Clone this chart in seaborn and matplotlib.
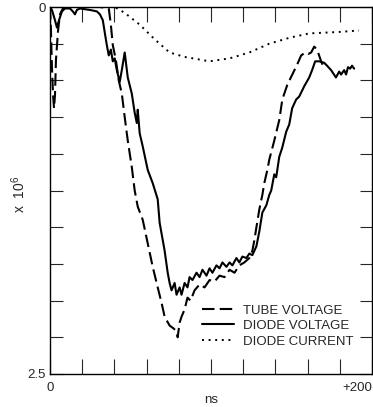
import numpy as np
import pandas as pd
import matplotlib
matplotlib.use("Agg")
import matplotlib.pyplot as plt
import seaborn as sns

# ---- data (x in ns, y in units of 10^6) ----
tube_x = [0.0, 0.6, 1.2, 1.9, 2.5, 3.1, 3.7, 5.0, 6.2, 8.0,
          11.1, 18.6, 31.0, 36.5, 37.8, 39.0, 40.9, 42.7, 44.6, 46.4,
          48.3, 50.8, 52.6, 54.5, 57.6, 60.7, 63.8, 66.9, 69.4, 71.2,
          74.3, 76.8, 78.6, 79.3, 80.5, 81.7, 83.6, 85.4, 87.3, 89.8,
          92.9, 96.0, 99.1, 102.2, 105.3, 108.4, 111.5, 114.6, 117.6, 120.7,
          123.8, 125.7, 126.9, 128.8, 130.0, 131.9, 133.1, 135.0, 136.2, 139.3,
          142.4, 144.3, 147.4, 150.5, 153.6, 156.0, 158.5, 160.4, 162.2, 164.1,
          165.9, 168.4, 170.3]
tube_y = [0.00, 0.16, 0.41, 0.60, 0.69, 0.60, 0.36, 0.16, 0.05, 0.01,
          0.00, 0.00, 0.00, 0.01, 0.12, 0.26, 0.36, 0.50, 0.59, 0.75,
          0.91, 1.09, 1.25, 1.36, 1.45, 1.61, 1.77, 1.91, 2.02, 2.11,
          2.17, 2.19, 2.21, 2.25, 2.15, 2.11, 2.06, 1.98, 2.00, 1.93,
          1.89, 1.91, 1.86, 1.87, 1.83, 1.84, 1.79, 1.81, 1.76, 1.74,
          1.71, 1.66, 1.59, 1.46, 1.38, 1.28, 1.20, 1.11, 1.04, 0.91,
          0.77, 0.63, 0.53, 0.46, 0.39, 0.33, 0.31, 0.32, 0.31, 0.27,
          0.29, 0.37, 0.42]

diode_x = [0.0, 1.2, 3.1, 4.3, 5.6, 7.4, 9.3, 12.4, 14.2, 15.5,
           16.7, 18.6, 24.8, 29.1, 31.0, 32.8, 34.1, 35.3, 36.5, 37.8,
           39.0, 40.2, 41.5, 43.3, 44.6, 46.4, 48.3, 50.8, 52.6, 53.9,
           54.5, 55.7, 57.6, 60.7, 63.8, 66.9, 68.1, 71.2, 73.1, 74.3,
           75.5, 77.4, 78.6, 80.5, 81.7, 83.6, 85.4, 86.7, 88.5, 91.0,
           92.9, 94.7, 97.2, 99.1, 100.9, 103.4, 105.3, 107.1, 109.6, 111.5,
           113.3, 115.8, 117.6, 119.5, 122.0, 123.8, 125.7, 128.2, 130.0, 131.9,
           134.4, 136.2, 137.4, 139.3, 140.5, 142.4, 144.2, 146.7, 148.6, 150.4,
           152.9, 154.8, 157.9, 161.0, 162.8, 164.7, 167.2, 170.3, 172.1, 174.6,
           176.4, 177.6, 179.6, 180.8, 182.7, 183.9, 185.1, 186.4, 187.6, 188.9]
diode_y = [0.00, 0.02, 0.09, 0.14, 0.09, 0.03, 0.01, 0.01, 0.03, 0.05,
           0.02, 0.01, 0.02, 0.03, 0.05, 0.09, 0.18, 0.26, 0.33, 0.29,
           0.37, 0.35, 0.43, 0.51, 0.43, 0.31, 0.48, 0.59, 0.72, 0.79,
           0.70, 0.86, 0.95, 1.11, 1.20, 1.31, 1.47, 1.66, 1.81, 1.88,
           1.93, 1.88, 1.96, 1.91, 1.96, 1.88, 1.91, 1.84, 1.86, 1.81,
           1.84, 1.79, 1.83, 1.78, 1.81, 1.76, 1.78, 1.74, 1.77, 1.74,
           1.76, 1.71, 1.74, 1.70, 1.71, 1.68, 1.69, 1.63, 1.53, 1.40,
           1.35, 1.28, 1.25, 1.14, 1.16, 1.02, 0.96, 0.85, 0.80, 0.69,
           0.63, 0.61, 0.54, 0.48, 0.43, 0.37, 0.37, 0.38, 0.40, 0.43,
           0.46, 0.48, 0.44, 0.46, 0.43, 0.46, 0.41, 0.42, 0.40, 0.42]

current_x = [0.0, 20.0, 40.2, 46.4, 55.7, 65.0, 74.3, 83.6, 99.1, 111.5,
             123.8, 136.2, 148.6, 160.9, 179.5, 191.9]
current_y = [0.0, 0.0, 0.0, 0.04, 0.12, 0.22, 0.31, 0.34, 0.37, 0.35,
             0.31, 0.25, 0.21, 0.18, 0.17, 0.16]

labels = ["TUBE VOLTAGE", "DIODE VOLTAGE", "DIODE CURRENT"]

sns.set_theme(style="ticks")
plt.rcParams["font.family"] = ["Liberation Sans", "DejaVu Sans"]
plt.rcParams["mathtext.fontset"] = "custom"
plt.rcParams["mathtext.rm"] = "Liberation Sans"
plt.rcParams["mathtext.default"] = "regular"

fig = plt.figure(figsize=(3.73, 4.07), dpi=100)
ax = fig.add_axes([50 / 373, 1 - 374 / 407, 322 / 373, 367 / 407])

lw = 1.5
sns.lineplot(x=tube_x, y=tube_y, ax=ax, color="black", lw=lw, sort=False,
             estimator=None, label=labels[0])
ax.lines[-1].set_dashes((6, 2.5))
sns.lineplot(x=diode_x, y=diode_y, ax=ax, color="black", lw=lw, sort=False,
             estimator=None, label=labels[1])
sns.lineplot(x=current_x, y=current_y, ax=ax, color="black", lw=1.4, sort=False,
             estimator=None, label=labels[2])
ax.lines[-1].set_dashes((1, 2.4))

ax.set_xlim(0, 200)
ax.set_ylim(2.5, 0)

xt = np.arange(0, 201, 20)
ax.set_xticks(xt)
ax.set_xticklabels(["0"] + [""] * 9 + ["+200"], fontsize=9.5)
ax.get_xticklabels()[-1].set_horizontalalignment("right")
yt = np.arange(0, 2.51, 0.25)
ax.set_yticks(yt)
ax.set_yticklabels(["0"] + [""] * 9 + ["2.5"], fontsize=9.5)
ax.tick_params(axis="x", direction="in", length=11, width=0.8, top=True, bottom=True, pad=6)
ax.tick_params(axis="y", direction="in", length=9, width=0.8, left=True, right=True, pad=3)
for s in ax.spines.values():
    s.set_visible(True)
    s.set_linewidth(1.0)
    s.set_color("black")

ax.set_xlabel("ns", fontsize=9.5)
ax.set_ylabel("x  10$^{6}$", fontsize=10)
ax.xaxis.set_label_coords(0.5, -0.055)
ax.yaxis.set_label_coords(-0.068, 0.49)

leg = ax.legend(loc="upper left", bbox_to_anchor=(0.472, 0.19), frameon=False,
                fontsize=9.5, borderpad=0, borderaxespad=0, labelspacing=0.25,
                handlelength=2.4, handletextpad=0.7)
for h in leg.get_lines():
    h.set_color("black")

fig.savefig("out.png", dpi=100, facecolor="white")
